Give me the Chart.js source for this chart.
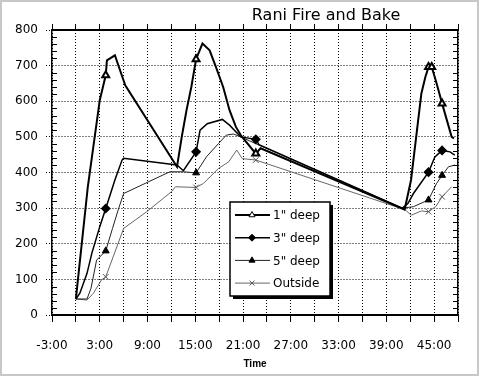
<!DOCTYPE html>
<html>
<head>
<meta charset="utf-8">
<script src="https://cdn.jsdelivr.net/npm/chart.js@4.4.1/dist/chart.umd.min.js"></script>
<style>
  html, body { margin: 0; padding: 0; background: #fff; }
  canvas { display: block; outline: 2px solid #c8c8c8; outline-offset: -2px; }
</style>
</head>
<body>
<canvas id="chart" width="479" height="376"></canvas>
<script>
const chartTitle = 'Rani Fire and Bake';
const seriesNames = ['1" deep', '3" deep', '5" deep', 'Outside'];

// hours from start, temperature
const time1 = [0, 1.5, 3.0, 3.75, 3.9, 4.9, 6.2, 12.7, 13.3, 13.9, 14.5, 15.1, 15.9, 16.8, 17.6, 18.5, 19.3, 20.1, 20.8, 22.6, 23.2, 41.3, 42.1, 42.8, 43.4, 43.9, 44.3, 44.7, 45.2, 46.0, 46.6, 47.2, 47.5];
const deep1 = [45, 360, 603, 673, 715, 729, 645, 416, 500, 575, 640, 718, 762, 743, 696, 640, 575, 528, 502, 453, 468, 296, 379, 510, 622, 668, 696, 696, 659, 594, 547, 500, 496];
const marks1 = [3.75, 15.1, 22.6, 44.3, 44.7, 46.0];

const time3 = [0, 0.5, 1.4, 2.0, 3.0, 3.75, 4.5, 4.9, 5.8, 6.0, 12.7, 13.5, 15.1, 15.6, 16.5, 18.4, 19.3, 20.7, 22.6, 23.0, 41.0, 41.7, 42.4, 44.3, 45.1, 46.0, 47.0, 47.6];
const deep3 = [45, 61, 117, 173, 248, 299, 351, 379, 435, 440, 421, 405, 458, 519, 537, 549, 533, 500, 493, 478, 300, 313, 341, 401, 444, 462, 458, 449];
const marks3 = [3.75, 15.1, 22.6, 44.3, 46.0];

const time5 = [0, 1.4, 1.9, 2.6, 3.75, 4.6, 5.3, 6.0, 11.8, 13.5, 15.1, 16.4, 17.9, 18.9, 19.8, 20.7, 22.6, 41.0, 42.4, 44.3, 45.3, 46.0, 46.8, 47.6];
const deep5 = [45, 45, 75, 154, 180, 243, 294, 341, 402, 402, 399, 444, 481, 505, 508, 500, 481, 300, 304, 323, 369, 392, 416, 421];
const marks5 = [3.75, 15.1, 44.3, 46.0];

const timeOut = [0, 1.4, 2.2, 3.2, 3.75, 6.0, 8.9, 12.0, 12.5, 15.1, 16.0, 17.9, 19.2, 20.2, 20.9, 22.6, 41.4, 42.1, 43.4, 44.3, 45.2, 46.0, 47.2];
const outside = [45, 42, 61, 98, 107, 243, 290, 346, 360, 358, 369, 411, 430, 463, 439, 435, 295, 280, 292, 290, 304, 332, 360];
const marksOut = [3.75, 15.1, 22.6, 44.3, 46.0];

const xMin = -3, xMax = 48, xStep = 3;
const yMin = 0, yMax = 800, yStep = 100, yMinor = 20;

Chart.defaults.font.family = '"DejaVu Sans", sans-serif';
Chart.defaults.color = '#000';

const toPoints = (ts, vs) => ts.map((t, i) => ({ x: t, y: vs[i] }));
const radii = (ts, marks) => ts.map(t => marks.includes(t) ? 4 : 0);

const datasets = [
  { label: seriesNames[0], data: toPoints(time1, deep1), borderColor: '#000', borderWidth: 2,
    pointStyle: 'triangle', pointBackgroundColor: '#fff', pointBorderColor: '#000', pointRadius: radii(time1, marks1) },
  { label: seriesNames[1], data: toPoints(time3, deep3), borderColor: '#000', borderWidth: 1.5,
    pointStyle: 'rectRot', pointBackgroundColor: '#000', pointBorderColor: '#000', pointRadius: radii(time3, marks3) },
  { label: seriesNames[2], data: toPoints(time5, deep5), borderColor: '#222', borderWidth: 1,
    pointStyle: 'triangle', pointBackgroundColor: '#000', pointBorderColor: '#000', pointRadius: radii(time5, marks5) },
  { label: seriesNames[3], data: toPoints(timeOut, outside), borderColor: '#666', borderWidth: 1,
    pointStyle: 'crossRot', pointBackgroundColor: '#666', pointBorderColor: '#555', pointRadius: radii(timeOut, marksOut) },
];

// legend sits inside the plot with a drop shadow
const legendBox = { x: 230, y: 202, w: 100, h: 94, shadow: 3, first: 13, gap: 22.7 };
const insetLegend = {
  id: 'insetLegend',
  afterDatasetsDraw(chart) {
    const ctx = chart.ctx, b = legendBox;
    ctx.save();
    ctx.fillStyle = '#000';
    ctx.fillRect(b.x + b.shadow, b.y + b.shadow, b.w, b.h);
    ctx.fillStyle = '#fff';
    ctx.fillRect(b.x, b.y, b.w, b.h);
    ctx.strokeStyle = '#000';
    ctx.lineWidth = 1.5;
    ctx.strokeRect(b.x, b.y, b.w, b.h);
    chart.data.datasets.forEach((ds, i) => {
      const y = b.y + b.first + i * b.gap;
      ctx.strokeStyle = ds.borderColor;
      ctx.lineWidth = ds.borderWidth;
      ctx.beginPath();
      ctx.moveTo(b.x + 5, y);
      ctx.lineTo(b.x + 40, y);
      ctx.stroke();
      ctx.fillStyle = ds.pointBackgroundColor;
      ctx.strokeStyle = ds.pointBorderColor;
      ctx.lineWidth = 1;
      Chart.helpers.drawPoint(ctx, { pointStyle: ds.pointStyle, radius: 3.5, borderWidth: 1, rotation: 0 }, b.x + 22, y);
      ctx.fillStyle = '#000';
      ctx.font = '12px "DejaVu Sans"';
      ctx.textBaseline = 'middle';
      ctx.textAlign = 'left';
      ctx.fillText(ds.label, b.x + 43, y + 1);
    });
    ctx.restore();
  }
};

const minorTicks = {
  id: 'minorTicks',
  afterDraw(chart) {
    const { ctx, chartArea: a } = chart;
    const y = chart.scales.y;
    ctx.save();
    ctx.strokeStyle = '#000';
    ctx.lineWidth = 1;
    for (let v = yMin; v <= yMax; v += yMinor) {
      if (v % yStep === 0) continue;
      const p = Math.round(y.getPixelForValue(v)) + 0.5;
      ctx.beginPath();
      ctx.moveTo(a.left, p); ctx.lineTo(a.left + 5, p);
      ctx.moveTo(a.right - 5, p); ctx.lineTo(a.right, p);
      ctx.stroke();
    }
    ctx.restore();
  }
};

const offsetTitle = {
  id: 'offsetTitle',
  afterDraw(chart) {
    const { ctx, chartArea: a } = chart;
    ctx.save();
    ctx.font = '16px "DejaVu Sans"';
    ctx.fillStyle = '#000';
    ctx.textAlign = 'center';
    ctx.textBaseline = 'middle';
    ctx.fillText(chartTitle, a.left + 0.675 * (a.right - a.left), 16);
    ctx.restore();
  }
};

new Chart(document.getElementById('chart'), {
  type: 'line',
  data: { datasets },
  options: {
    responsive: false,
    animation: false,
    events: [],
    layout: { padding: 0 },
    elements: { line: { tension: 0 }, point: { borderWidth: 1 } },
    plugins: { legend: { display: false }, tooltip: { enabled: false } },
    scales: {
      x: {
        type: 'linear', min: xMin, max: xMax,
        ticks: { stepSize: xStep, autoSkip: false, maxRotation: 0, padding: 17, font: { size: 12 },
          callback: v => (v - xMin) % 6 === 0 ? v + ':00' : '' },
        grid: { color: '#000', lineWidth: 1, tickLength: 7, tickColor: '#000' },
        border: { color: '#000', width: 2, dash: [1, 2] },
        title: { display: true, text: 'Time', font: { family: '"Liberation Sans"', weight: 'bold', size: 10 },
          padding: { top: 0, bottom: 6 } },
        afterFit: s => { s.height = 61; }
      },
      x2: {
        type: 'linear', position: 'top', min: xMin, max: xMax,
        ticks: { stepSize: xStep, display: false },
        grid: { drawOnChartArea: false, tickLength: 6, color: '#000' },
        border: { color: '#000', width: 2 },
        afterFit: s => { s.height = 30; }
      },
      y: {
        min: yMin, max: yMax,
        ticks: { stepSize: yStep, padding: 8, font: { size: 12 } },
        grid: { color: '#000', tickLength: 6, tickBorderDash: [1, 2] },
        border: { color: '#000', width: 1.5, dash: [1, 2] },
        afterFit: s => { s.width = 52; }
      },
      y2: {
        position: 'right', min: yMin, max: yMax,
        ticks: { stepSize: yStep, display: false },
        grid: { drawOnChartArea: false, drawTicks: false },
        border: { color: '#000', width: 1.5 },
        afterFit: s => { s.width = 21; }
      }
    }
  },
  plugins: [insetLegend, minorTicks, offsetTitle]
});
</script>
</body>
</html>
